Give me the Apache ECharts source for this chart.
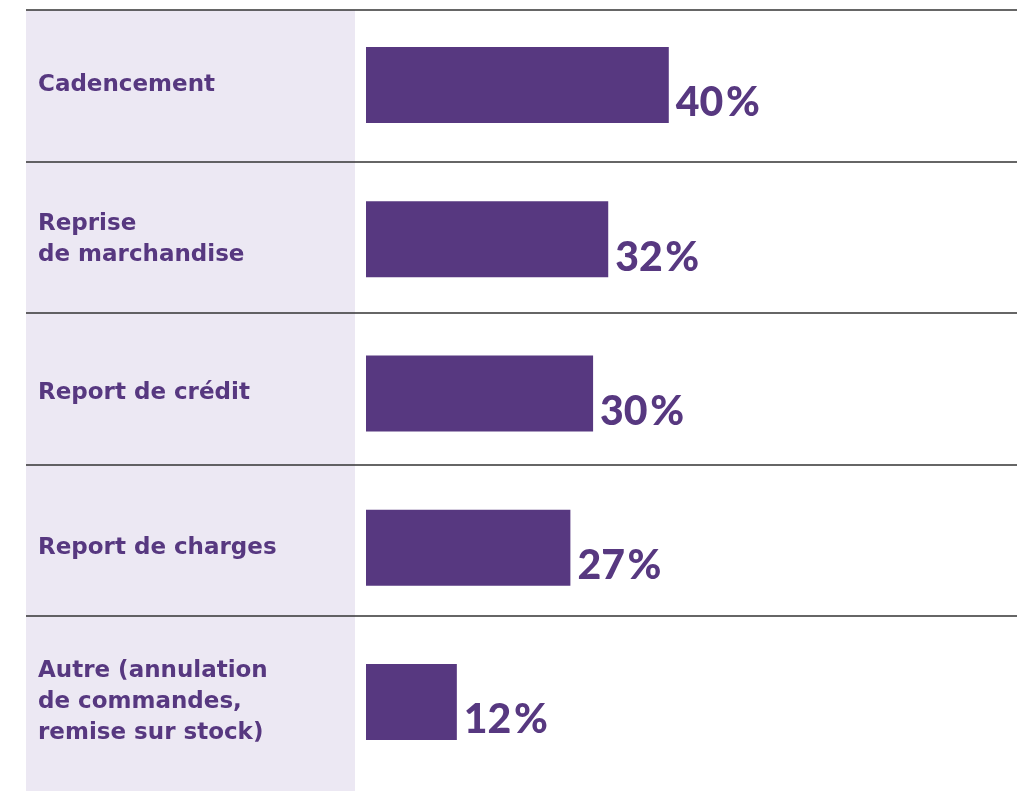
<!DOCTYPE html>
<html lang="fr" style="height: 100%">
<head>
    <meta charset="utf-8">
    <script src="https://cdn.jsdelivr.net/npm/echarts@6/dist/echarts.min.js"></script>
</head>
<body style="height: 100%; margin: 0; background: #fff">
<div id="main" style="width: 1017px; height: 791px"></div>
<script type="text/javascript">
    // catégories et valeurs (%)
    var categories = [
        'Cadencement',
        'Reprise\nde marchandise',
        'Report de crédit',
        'Report de charges',
        'Autre (annulation\nde commandes,\nremise sur stock)'
    ];
    var values = [40, 32, 30, 27, 12];

    var purple = '#573880';
    var chart = echarts.init(document.getElementById('main'));

    chart.setOption({
        animation: false,
        backgroundColor: '#ffffff',
        // panneau gauche
        graphic: [{
            type: 'rect',
            z: -10,
            silent: true,
            shape: {x: 26, y: 10, width: 329, height: 781},
            style: {fill: '#ECE8F3'}
        }],
        grid: [
            // lignes de séparation
            {left: 26, right: 0, top: 10, height: 757.5},
            // barres
            {left: 366, right: 0, top: 8, height: 771}
        ],
        xAxis: [
            {gridIndex: 0, type: 'value', min: 0, max: 1, show: false},
            {gridIndex: 1, type: 'value', min: 0, max: 86, show: false}
        ],
        yAxis: [
            {
                gridIndex: 0,
                type: 'category',
                inverse: true,
                data: categories,
                axisLine: {show: false},
                axisTick: {show: false},
                axisLabel: {show: false},
                splitLine: {
                    show: true,
                    showMaxLine: false,
                    lineStyle: {color: '#333333', width: 1.5}
                }
            },
            {
                gridIndex: 1,
                type: 'category',
                inverse: true,
                data: categories,
                axisLine: {show: false},
                axisTick: {show: false},
                splitLine: {show: false},
                axisLabel: {
                    margin: 328,
                    align: 'left',
                    color: purple,
                    fontFamily: 'DejaVu Sans',
                    fontWeight: 'bold',
                    fontSize: 23,
                    lineHeight: 31
                }
            }
        ],
        series: [{
            type: 'bar',
            xAxisIndex: 1,
            yAxisIndex: 1,
            data: values,
            barWidth: 76,
            itemStyle: {color: purple},
            label: {
                show: true,
                position: 'right',
                distance: 7,
                offset: [0, 18],
                formatter: '{c}\u200a%',
                color: purple,
                fontFamily: 'Lato',
                fontWeight: 900,
                fontSize: 41
            }
        }]
    });
</script>
</body>
</html>
